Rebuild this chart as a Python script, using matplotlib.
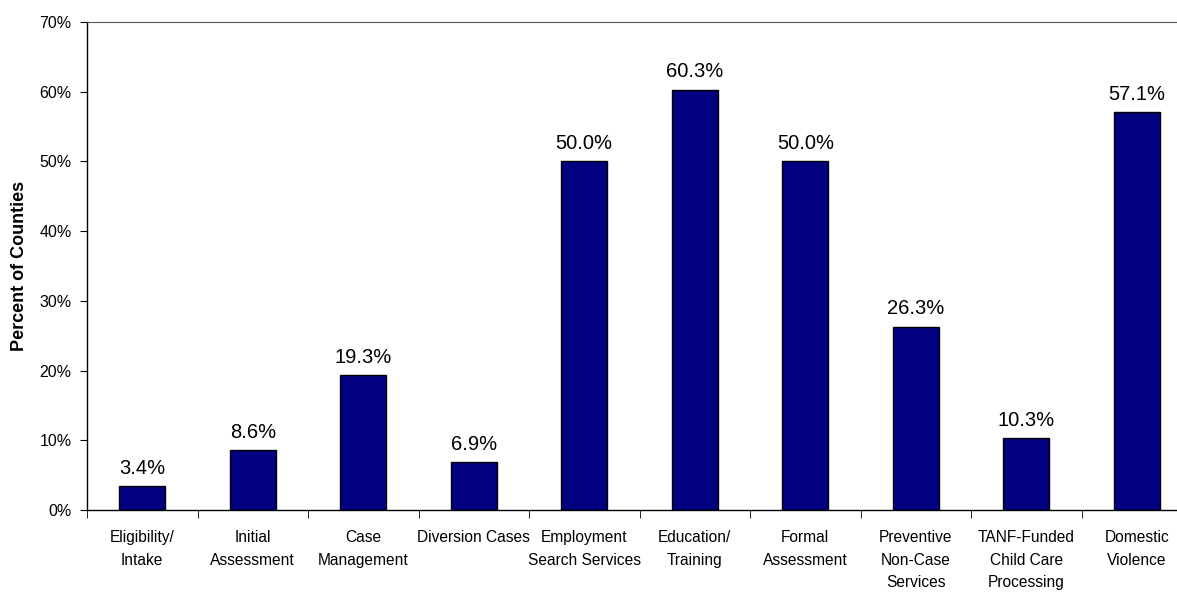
import numpy as np
import matplotlib.pyplot as plt
from matplotlib.ticker import FixedLocator, PercentFormatter

plt.rcParams['font.family'] = ['Liberation Sans', 'DejaVu Sans']

# share of counties per service area
categories = ['Eligibility/\nIntake', 'Initial\nAssessment', 'Case\nManagement',
              'Diversion Cases', 'Employment\nSearch Services', 'Education/\nTraining',
              'Formal\nAssessment', 'Preventive\nNon-Case\nServices',
              'TANF-Funded\nChild Care\nProcessing', 'Domestic\nViolence']
percents = [3.4, 8.6, 19.3, 6.9, 50.0, 60.3, 50.0, 26.3, 10.3, 57.1]

fig = plt.figure(figsize=(11.77, 5.92), dpi=100)
ax = fig.add_axes([87 / 1177, 82 / 592, 1105 / 1177, 488 / 592])

x = np.arange(len(categories))
bars = ax.bar(x, percents, width=0.42, color='#000080', edgecolor='black', linewidth=1)

for b, v in zip(bars, percents):
    ax.annotate(f'{v:.1f}%', (b.get_x() + b.get_width() / 2, v),
                xytext=(0, 6), textcoords='offset points',
                ha='center', va='bottom', fontsize=14.5)

ax.set_xlim(-0.5, len(categories) - 0.5)
ax.set_ylim(0, 70)
ax.set_yticks(np.arange(0, 71, 10))
ax.yaxis.set_major_formatter(PercentFormatter(decimals=0))
ax.tick_params(axis='y', length=5, direction='out', pad=6, labelsize=11.5)

ax.set_xticks(x)
ax.set_xticklabels(categories, fontsize=11.2, linespacing=1.62)
ax.tick_params(axis='x', which='major', length=0, pad=14.5)
ax.xaxis.set_minor_locator(FixedLocator(np.arange(-0.5, len(categories), 1)))
ax.tick_params(axis='x', which='minor', length=6, direction='out')

ax.set_ylabel('Percent of Counties', fontsize=13, fontweight='bold')
ax.yaxis.set_label_coords(-0.053, 0.5)

ax.spines['right'].set_visible(False)
ax.spines['top'].set_color('#555555')
for s in ('left', 'bottom'):
    ax.spines[s].set_linewidth(1)

fig.savefig('out.png', dpi=100)
